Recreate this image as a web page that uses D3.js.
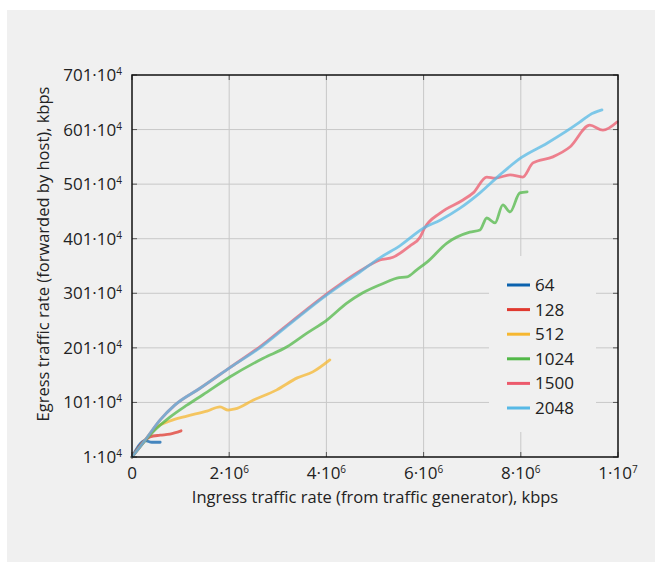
<!DOCTYPE html>
<html><head><meta charset="utf-8">
<script src="https://cdn.jsdelivr.net/npm/d3@7"></script>
<style>
html,body{margin:0;padding:0;background:#fff;}
text{font-family:"Open Sans","Noto Sans",sans-serif;fill:#222;}
</style></head>
<body><svg id="c" width="660" height="562"></svg>
<script>
// x values in units of 1e6 kbps, y values in units of 1e4 kbps
const seriesNames = ["64","128","512","1024","1500","2048"];
const seriesColors = ["#0b62ae","#e0392f","#f6b730","#52b848","#ec5a6c","#57b9e6"];
const x64 = [0,0.27,0.41,0.58];
const y64 = [1,31,28,28];
const x128 = [0,0.27,0.37,0.58,0.78,1.01];
const y128 = [1,32,38,41,43,49];
const x512 = [0,0.27,0.51,0.78,1.13,1.54,1.81,1.98,2.12,2.49,2.98,3.40,3.72,4.07];
const y512 = [1,32,56,67,76,85,93,87,89,105,124,146,157,179];
const x1024 = [0,0.43,0.78,1.13,1.46,2.02,2.70,3.19,3.60,4.01,4.42,4.75,5.25,5.45,5.66,5.86,6.07,6.48,6.95,7.16,7.30,7.47,7.63,7.78,7.98,8.13];
const y1024 = [1,47,74,96,115,148,182,203,228,252,283,302,322,329,331,344,358,393,413,417,439,430,463,450,485,487];
const x1500 = [0,0.27,0.58,0.88,1.40,2.00,2.63,3.25,4.01,4.69,5.10,5.37,5.72,5.93,6.01,6.34,6.81,7.02,7.30,7.47,7.78,8.04,8.25,8.66,9.01,9.42,9.69,9.98];
const y1500 = [1,32,69,96,127,164,203,247,300,342,362,367,388,404,419,448,472,485,514,512,518,514,540,551,569,609,600,615];
const x2048 = [0,0.27,0.58,0.88,1.40,2.00,2.63,3.25,4.01,4.69,5.10,5.51,6.01,6.34,6.75,7.16,7.57,8.00,8.54,9.22,9.42,9.67];
const y2048 = [1,32,69,96,127,164,201,245,298,340,366,388,421,435,457,485,518,549,576,615,628,637];
const xTicks = [0,2e6,4e6,6e6,8e6,1e7];
const xTickLabels = [["0",""],["2·10","6"],["4·10","6"],["6·10","6"],["8·10","6"],["1·10","7"]];
const yTicks = [1e4,101e4,201e4,301e4,401e4,501e4,601e4,701e4];
const yTickLabels = [["1·10","4"],["101·10","4"],["201·10","4"],["301·10","4"],["401·10","4"],["501·10","4"],["601·10","4"],["701·10","4"]];
const xLabel = "Ingress traffic rate (from traffic generator), kbps";
const yLabel = "Egress traffic rate (forwarded by host), kbps";

const xsAll = [x64,x128,x512,x1024,x1500,x2048];
const ysAll = [y64,y128,y512,y1024,y1500,y2048];
const series = seriesNames.map((n,i)=>({name:n,color:seriesColors[i],
  pts: xsAll[i].map((v,j)=>[v*1e6, ysAll[i][j]*1e4])}));

const svg = d3.select("#c");
svg.append("rect").attr("x",7).attr("y",10).attr("width",648).attr("height",552).attr("fill","#f0f0f0");

const L=132,R=618,T=75,B=457;
const x = d3.scaleLinear().domain([0,1e7]).range([L,R]);
const y = d3.scaleLinear().domain([1e4,701e4]).range([B,T]);

// grid
const g = svg.append("g");
g.selectAll(".vg").data(xTicks.slice(1,-1)).enter().append("line")
 .attr("x1",d=>x(d)).attr("x2",d=>x(d)).attr("y1",T).attr("y2",B)
 .attr("stroke","#c8c8c8").attr("stroke-width",1);
g.selectAll(".hg").data(yTicks.slice(1,-1)).enter().append("line")
 .attr("y1",d=>y(d)).attr("y2",d=>y(d)).attr("x1",L).attr("x2",R)
 .attr("stroke","#c8c8c8").attr("stroke-width",1);

// inward ticks on all four sides
const tk = svg.append("g").attr("stroke","#555").attr("stroke-width",1);
xTicks.forEach(v=>{
  tk.append("line").attr("x1",x(v)).attr("x2",x(v)).attr("y1",B).attr("y2",B-5);
  tk.append("line").attr("x1",x(v)).attr("x2",x(v)).attr("y1",T).attr("y2",T+5);
});
yTicks.forEach(v=>{
  tk.append("line").attr("y1",y(v)).attr("y2",y(v)).attr("x1",L).attr("x2",L+5);
  tk.append("line").attr("y1",y(v)).attr("y2",y(v)).attr("x1",R).attr("x2",R-5);
});

// lines
const line = d3.line().x(d=>x(d[0])).y(d=>y(d[1])).curve(d3.curveMonotoneX);
svg.append("g").selectAll("path").data(series).enter().append("path")
 .attr("d",d=>line(d.pts)).attr("fill","none").attr("stroke",d=>d.color)
 .attr("stroke-width",2.8).attr("stroke-opacity",0.75).attr("stroke-linejoin","round").attr("stroke-linecap","round");

// frame
svg.append("rect").attr("x",L).attr("y",T).attr("width",R-L).attr("height",B-T)
 .attr("fill","none").attr("stroke","#111").attr("stroke-width",1.5);

// tick labels
const fs = 17;
xTicks.forEach((v,i)=>{
  const t = svg.append("text").attr("x",x(v)).attr("y",479).attr("text-anchor","middle").attr("font-size",fs);
  t.append("tspan").text(xTickLabels[i][0]);
  if(xTickLabels[i][1]) t.append("tspan").attr("dy",-6).attr("font-size",10).text(xTickLabels[i][1]);
});
yTicks.forEach((v,i)=>{
  const t = svg.append("text").attr("x",122).attr("y",y(v)+6).attr("text-anchor","end").attr("font-size",fs);
  t.append("tspan").text(yTickLabels[i][0]);
  t.append("tspan").attr("dy",-6).attr("font-size",10).text(yTickLabels[i][1]);
});

// axis labels
svg.append("text").attr("x",375).attr("y",503).attr("text-anchor","middle").attr("font-size",16.5).text(xLabel);
svg.append("text").attr("transform","translate(49,254) rotate(-90)").attr("text-anchor","middle").attr("font-size",16.5).text(yLabel);

// legend
svg.append("rect").attr("x",489).attr("y",256).attr("width",107).attr("height",176).attr("fill","#f0f0f0");
const lg = svg.append("g");
series.forEach((s,i)=>{
  const yy = 285 + i*24.6;
  lg.append("line").attr("x1",507).attr("x2",530).attr("y1",yy).attr("y2",yy).attr("stroke",s.color).attr("stroke-width",3);
  lg.append("text").attr("x",535).attr("y",yy+6).attr("font-size",17).text(s.name);
});
</script></body></html>
